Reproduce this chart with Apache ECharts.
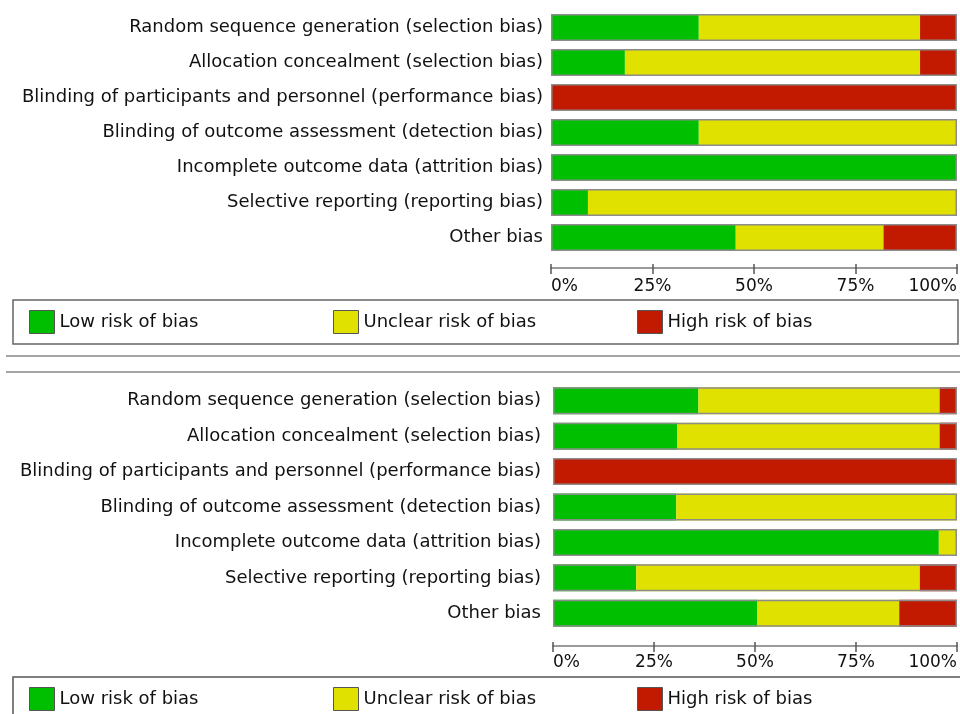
<!DOCTYPE html>
<html>
<head>
<meta charset="utf-8">
<title>Risk of bias summary</title>
<script src="https://cdn.jsdelivr.net/npm/echarts@6/dist/echarts.min.js"></script>
<style>
  html, body { margin: 0; padding: 0; background: #ffffff; }
  #chart { width: 960px; height: 714px; }
</style>
</head>
<body>
<div id="chart"></div>
<script>
// Risk-of-bias domains (shared by both panels)
const domains = [
  'Random sequence generation (selection bias)',
  'Allocation concealment (selection bias)',
  'Blinding of participants and personnel (performance bias)',
  'Blinding of outcome assessment (detection bias)',
  'Incomplete outcome data (attrition bias)',
  'Selective reporting (reporting bias)',
  'Other bias'
];

// Judgement levels
const levels = ['Low risk of bias', 'Unclear risk of bias', 'High risk of bias'];

// Upper panel: percentage of studies per judgement
const upperLow     = [36.4, 18.2,   0, 36.4, 100,  9.1, 45.5];
const upperUnclear = [54.5, 72.7,   0, 63.6,   0, 90.9, 36.4];
const upperHigh    = [ 9.1,  9.1, 100,    0,   0,    0, 18.2];

// Lower panel: percentage of studies per judgement
const lowerLow     = [36.0, 30.8,   0, 30.5, 95.5, 20.6, 50.6];
const lowerUnclear = [59.7, 64.9,   0, 69.5,  4.5, 70.2, 35.1];
const lowerHigh    = [ 4.3,  4.3, 100,    0,    0,  9.2, 14.3];

// Axis tick values (percent)
const tickValues = [0, 25, 50, 75, 100];

const colors = ['#00bf00', '#e1e100', '#c11a00'];
const FONT = 'DejaVu Sans';

const chart = echarts.init(document.getElementById('chart'), null, { renderer: 'canvas' });

function stackSeries(gridIdx, values) {
  const out = values.map((data, i) => ({
    name: levels[i],
    type: 'bar',
    stack: 'panel' + gridIdx,
    xAxisIndex: gridIdx * 2,
    yAxisIndex: gridIdx,
    barWidth: 27,
    itemStyle: { color: colors[i], borderWidth: 0 },
    emphasis: { disabled: true },
    data: data
  }));
  // grey outline drawn over each full-width bar
  out.push({
    name: 'outline' + gridIdx,
    type: 'bar',
    xAxisIndex: gridIdx * 2,
    yAxisIndex: gridIdx,
    barWidth: 27,
    barGap: '-100%',
    z: 3,
    silent: true,
    itemStyle: { color: 'rgba(0,0,0,0)', borderColor: '#8c8c8c', borderWidth: 1.5 },
    data: domains.map(() => 100)
  });
  return out;
}

function valueAxis(gridIdx, offset, margin) {
  return [{
    type: 'value',
    gridIndex: gridIdx,
    min: tickValues[0],
    max: tickValues[tickValues.length - 1],
    interval: tickValues[1] - tickValues[0],
    position: 'bottom',
    offset: offset,
    splitLine: { show: false },
    axisLine: { show: true, lineStyle: { color: '#9a9a9a', width: 2 } },
    axisTick: { show: true, length: 6, lineStyle: { color: '#555', width: 1.5 } },
    axisLabel: {
      margin: margin,
      formatter: '{value}%',
      color: '#111',
      fontFamily: FONT,
      fontSize: 17,
      alignMinLabel: 'left',
      alignMaxLabel: 'right'
    }
  }, {
    // upward half of each tick mark
    type: 'value',
    gridIndex: gridIdx,
    min: tickValues[0],
    max: tickValues[tickValues.length - 1],
    interval: tickValues[1] - tickValues[0],
    position: 'bottom',
    offset: offset,
    splitLine: { show: false },
    axisLine: { show: false },
    axisTick: { show: true, inside: true, length: 4, lineStyle: { color: '#555', width: 1.5 } },
    axisLabel: { show: false }
  }];
}

function categoryAxis(gridIdx, margin) {
  return {
    type: 'category',
    gridIndex: gridIdx,
    inverse: true,
    data: domains,
    axisLine: { show: false },
    axisTick: { show: false },
    axisLabel: {
      margin: margin,
      color: '#111',
      fontFamily: FONT,
      fontSize: 18,
      padding: [8, 0, 0, 0]
    }
  };
}

function legendItem(name, left, top) {
  return {
    data: [name],
    left: left,
    top: top,
    padding: 0,
    itemWidth: 25,
    itemHeight: 23,
    selectedMode: false,
    icon: 'rect',
    itemStyle: { borderColor: '#555', borderWidth: 1 },
    textStyle: { color: '#111', fontFamily: FONT, fontSize: 18 }
  };
}

const legendX = [29, 333, 637];

const option = {
  animation: false,
  backgroundColor: '#ffffff',
  grid: [
    { left: 551, width: 406, top: 10, height: 245 },
    { left: 553, width: 407, top: 383, height: 248 }
  ],
  xAxis: [].concat(valueAxis(0, 13, 10), valueAxis(1, 15, 8)),
  yAxis: [categoryAxis(0, 8), categoryAxis(1, 12)],
  legend: [].concat(
    levels.map((n, i) => legendItem(n, legendX[i], 310)),
    levels.map((n, i) => legendItem(n, legendX[i], 687))
  ),
  graphic: [
    // legend frame of the upper panel
    { type: 'rect', shape: { x: 13, y: 300, width: 945, height: 44 },
      style: { fill: 'none', stroke: '#666', lineWidth: 1.5 }, silent: true },
    // separators between the two panels
    { type: 'line', shape: { x1: 6, y1: 356, x2: 960, y2: 356 },
      style: { stroke: '#a5a5a5', lineWidth: 2 }, silent: true },
    { type: 'line', shape: { x1: 6, y1: 372, x2: 960, y2: 372 },
      style: { stroke: '#a5a5a5', lineWidth: 2 }, silent: true },
    // legend frame of the lower panel
    { type: 'rect', shape: { x: 13, y: 677, width: 960, height: 60 },
      style: { fill: 'none', stroke: '#555', lineWidth: 1.5 }, silent: true }
  ],
  series: [].concat(
    stackSeries(0, [upperLow, upperUnclear, upperHigh]),
    stackSeries(1, [lowerLow, lowerUnclear, lowerHigh])
  )
};

chart.setOption(option);
</script>
</body>
</html>
